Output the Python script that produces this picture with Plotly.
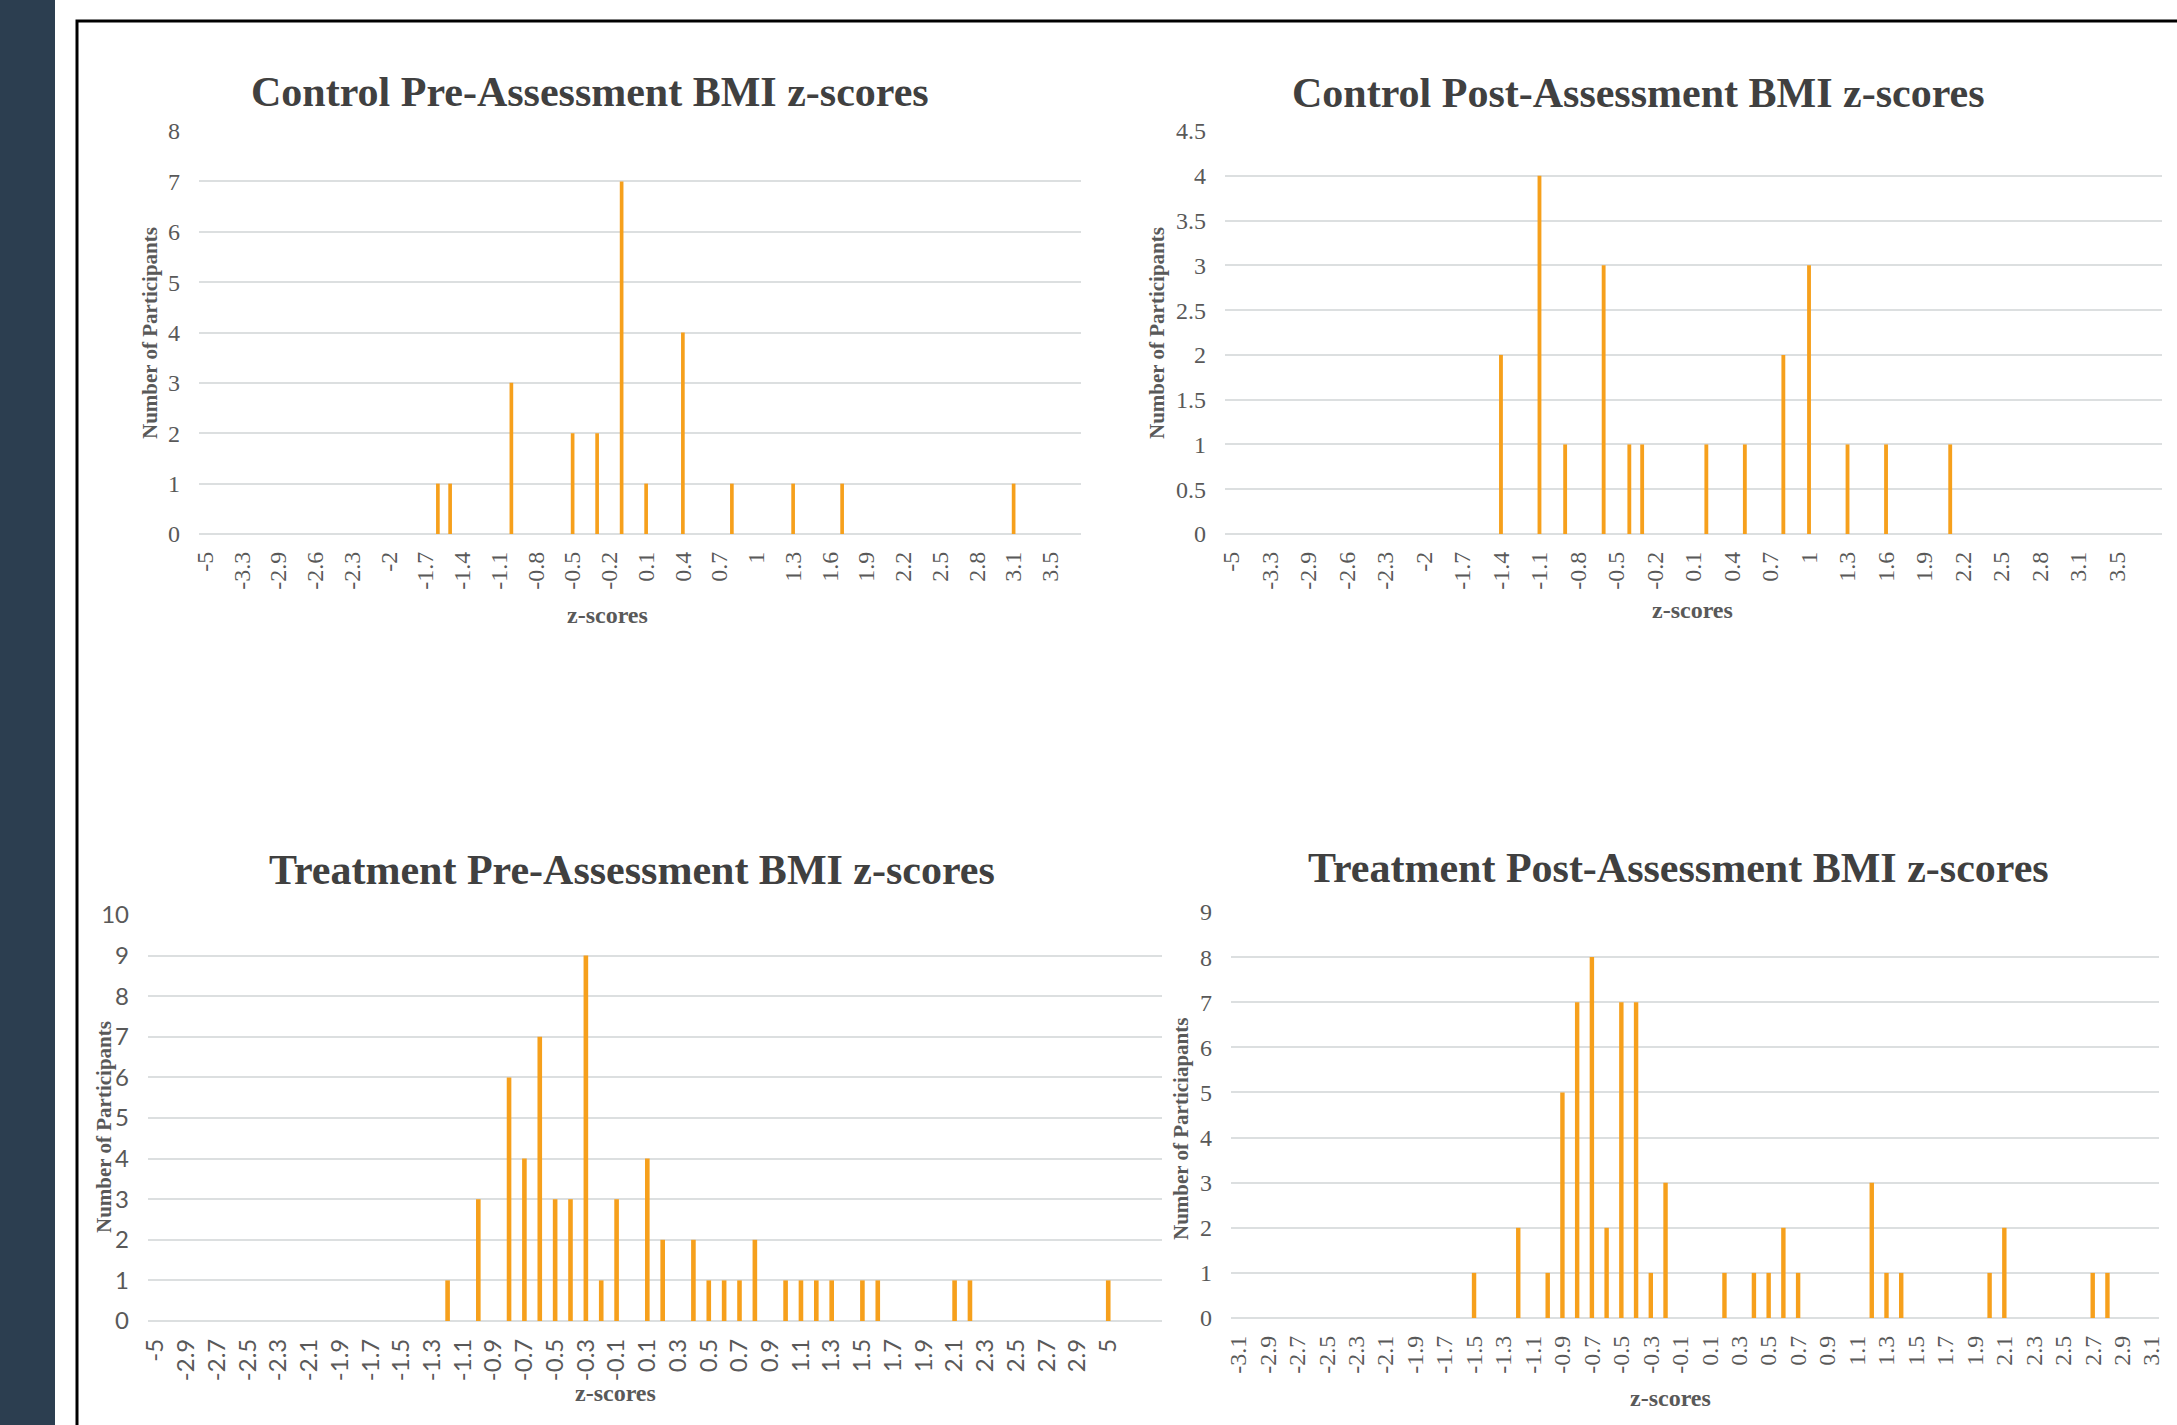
import plotly.graph_objects as go

# ---------------- data ----------------
CTRL_CATS = ["-5", "-3.5", "-3.4", "-3.3", "-3.2", "-3", "-2.9", "-2.8", "-2.7", "-2.6", "-2.5", "-2.4",
             "-2.3", "-2.2", "-2.1", "-2", "-1.9", "-1.8", "-1.7", "-1.6", "-1.5", "-1.4", "-1.3", "-1.2",
             "-1.1", "-1", "-0.9", "-0.8", "-0.7", "-0.6", "-0.5", "-0.4", "-0.3", "-0.2", "-0.1", "0",
             "0.1", "0.2", "0.3", "0.4", "0.5", "0.6", "0.7", "0.8", "0.9", "1", "1.1", "1.2", "1.3", "1.4",
             "1.5", "1.6", "1.7", "1.8", "1.9", "2", "2.1", "2.2", "2.3", "2.4", "2.5", "2.6", "2.7", "2.8",
             "2.9", "3", "3.1", "3.2", "3.3", "3.5", "3.6", "3.7"]
CTRL_TICKS = ["-5", "-3.3", "-2.9", "-2.6", "-2.3", "-2", "-1.7", "-1.4", "-1.1", "-0.8", "-0.5", "-0.2",
              "0.1", "0.4", "0.7", "1", "1.3", "1.6", "1.9", "2.2", "2.5", "2.8", "3.1", "3.5"]

CPRE_Z = ["-1.6", "-1.5", "-1", "-0.5", "-0.3", "-0.1", "0.1", "0.4", "0.8", "1.3", "1.7", "3.1"]
CPRE_N = [1, 1, 3, 2, 2, 7, 1, 4, 1, 1, 1, 1]

CPOST_Z = ["-1.4", "-1.1", "-0.9", "-0.6", "-0.4", "-0.3", "0.2", "0.5", "0.8", "1", "1.3", "1.6", "2.1"]
CPOST_N = [2, 4, 1, 3, 1, 1, 1, 1, 2, 3, 1, 1, 1]

TPRE_CATS = ["-5", "-3", "-2.9", "-2.8", "-2.7", "-2.6", "-2.5", "-2.4", "-2.3", "-2.2", "-2.1", "-2",
             "-1.9", "-1.8", "-1.7", "-1.6", "-1.5", "-1.4", "-1.3", "-1.2", "-1.1", "-1", "-0.9", "-0.8",
             "-0.7", "-0.6", "-0.5", "-0.4", "-0.3", "-0.2", "-0.1", "0", "0.1", "0.2", "0.3", "0.4", "0.5",
             "0.6", "0.7", "0.8", "0.9", "1", "1.1", "1.2", "1.3", "1.4", "1.5", "1.6", "1.7", "1.8", "1.9",
             "2", "2.1", "2.2", "2.3", "2.4", "2.5", "2.6", "2.7", "2.8", "2.9", "3", "5"]
TPRE_TICKS = ["-5", "-2.9", "-2.7", "-2.5", "-2.3", "-2.1", "-1.9", "-1.7", "-1.5", "-1.3", "-1.1", "-0.9",
              "-0.7", "-0.5", "-0.3", "-0.1", "0.1", "0.3", "0.5", "0.7", "0.9", "1.1", "1.3", "1.5", "1.7",
              "1.9", "2.1", "2.3", "2.5", "2.7", "2.9", "5"]
TPRE_Z = ["-1.2", "-1", "-0.8", "-0.7", "-0.6", "-0.5", "-0.4", "-0.3", "-0.2", "-0.1", "0.1", "0.2", "0.4",
          "0.5", "0.6", "0.7", "0.8", "1", "1.1", "1.2", "1.3", "1.5", "1.6", "2.1", "2.2", "5"]
TPRE_N = [1, 3, 6, 4, 7, 3, 3, 9, 1, 3, 4, 2, 2, 1, 1, 1, 2, 1, 1, 1, 1, 1, 1, 1, 1, 1]

TPOST_CATS = ["-3.1", "-3", "-2.9", "-2.8", "-2.7", "-2.6", "-2.5", "-2.4", "-2.3", "-2.2", "-2.1", "-2",
              "-1.9", "-1.8", "-1.7", "-1.6", "-1.5", "-1.4", "-1.3", "-1.2", "-1.1", "-1", "-0.9", "-0.8",
              "-0.7", "-0.6", "-0.5", "-0.4", "-0.3", "-0.2", "-0.1", "0", "0.1", "0.2", "0.3", "0.4", "0.5",
              "0.6", "0.7", "0.8", "0.9", "1", "1.1", "1.2", "1.3", "1.4", "1.5", "1.6", "1.7", "1.8", "1.9",
              "2", "2.1", "2.2", "2.3", "2.4", "2.5", "2.6", "2.7", "2.8", "2.9", "3", "3.1"]
TPOST_TICKS = ["-3.1", "-2.9", "-2.7", "-2.5", "-2.3", "-2.1", "-1.9", "-1.7", "-1.5", "-1.3", "-1.1",
               "-0.9", "-0.7", "-0.5", "-0.3", "-0.1", "0.1", "0.3", "0.5", "0.7", "0.9", "1.1", "1.3",
               "1.5", "1.7", "1.9", "2.1", "2.3", "2.5", "2.7", "2.9", "3.1"]
TPOST_Z = ["-1.5", "-1.2", "-1", "-0.9", "-0.8", "-0.7", "-0.6", "-0.5", "-0.4", "-0.3", "-0.2", "0.2",
           "0.4", "0.5", "0.6", "0.7", "1.2", "1.3", "1.4", "2", "2.1", "2.7", "2.8"]
TPOST_N = [1, 2, 1, 5, 7, 8, 2, 7, 7, 1, 3, 1, 1, 1, 2, 1, 3, 1, 1, 1, 2, 1, 1]

TITLES = ["Control Pre-Assessment BMI z-scores", "Control Post-Assessment BMI z-scores",
          "Treatment Pre-Assessment BMI z-scores", "Treatment Post-Assessment BMI z-scores"]
Y_TITLES = ["Number of Participants", "Number of Participants", "Number of Participants",
            "Number of Particiapants"]
X_TITLE = "z-scores"

# ---------------- layout helpers ----------------
# The page body margin is removed (post_script below), so the figure fills the window and
# all positions below are given in window pixels.
W, H = 2177, 1425


def fx(px):
    return px / W


def fy(py):
    return 1 - py / H


BAR_COLOR = "#F6A01C"
GRID = "#DCDFE0"
TXT = "#595959"
TITLE_C = "#404040"
SERIF = "Liberation Serif, Times New Roman, serif"
SANS = "Lato, sans-serif"

panels = [
    dict(cats=CTRL_CATS, ticks=CTRL_TICKS, z=CPRE_Z, n=CPRE_N, ymax=8, dtick=1, nshow=72,
         box=(199, 1081, 131, 534), tf=SERIF),
    dict(cats=CTRL_CATS, ticks=CTRL_TICKS, z=CPOST_Z, n=CPOST_N, ymax=4.5, dtick=0.5, nshow=73,
         box=(1225, 2162, 131, 534), tf=SERIF),
    dict(cats=TPRE_CATS, ticks=TPRE_TICKS, z=TPRE_Z, n=TPRE_N, ymax=10, dtick=1, nshow=66,
         box=(148, 1162, 915, 1321), tf=SANS),
    dict(cats=TPOST_CATS, ticks=TPOST_TICKS, z=TPOST_Z, n=TPOST_N, ymax=9, dtick=1, nshow=63,
         box=(1231, 2159, 912, 1318), tf=SERIF),
]

fig = go.Figure()
layout = dict(width=W, height=H, margin=dict(l=0, r=0, t=0, b=0, pad=0, autoexpand=False),
              paper_bgcolor="white", plot_bgcolor="white", showlegend=False, template="none")

for i, p in enumerate(panels, start=1):
    sfx = "" if i == 1 else str(i)
    fig.add_trace(go.Bar(x=p["z"], y=p["n"], marker=dict(color=BAR_COLOR, line=dict(width=0)),
                         width=0.3, xaxis="x" + sfx, yaxis="y" + sfx, hoverinfo="x+y"))
    x0, x1, y0, y1 = p["box"]
    layout["xaxis" + sfx] = dict(
        domain=[fx(x0), fx(x1)], anchor="y" + sfx, type="category", automargin=False,
        categoryorder="array", categoryarray=p["cats"],
        range=[-0.5, p["nshow"] - 0.5],
        tickmode="array", tickvals=p["ticks"], ticktext=p["ticks"],
        tickangle=-90, showgrid=False, zeroline=False, showline=False, ticks="",
        ticklabelstandoff=12,
        tickfont=dict(family=p["tf"], size=24, color=TXT))
    layout["yaxis" + sfx] = dict(
        domain=[fy(y1), fy(y0)], anchor="x" + sfx, range=[0, p["ymax"]], dtick=p["dtick"],
        tick0=0, automargin=False, showgrid=True, gridcolor=GRID, gridwidth=2, zeroline=True,
        zerolinecolor=GRID, zerolinewidth=2, showline=False, ticks="", ticklabelstandoff=18,
        tickfont=dict(family=p["tf"], size=24, color=TXT))

fig.update_layout(**layout)

# titles and axis titles (window pixel positions)
title_pos = [(590, 92), (1638, 93), (632, 870), (1678, 868)]
ytitle_pos = [(150, 333), (1157, 333), (104, 1127), (1181, 1129)]
xtitle_pos = [(607, 615), (1692, 610), (615, 1393), (1670, 1398)]
for i in range(4):
    fig.add_annotation(x=fx(title_pos[i][0]), y=fy(title_pos[i][1]), xref="paper", yref="paper",
                       text="<b>" + TITLES[i] + "</b>", showarrow=False, xanchor="center", yanchor="middle",
                       font=dict(family=SERIF, size=42, color=TITLE_C))
    fig.add_annotation(x=fx(ytitle_pos[i][0]), y=fy(ytitle_pos[i][1]), xref="paper", yref="paper",
                       text="<b>" + Y_TITLES[i] + "</b>", showarrow=False, textangle=-90,
                       xanchor="center", yanchor="middle",
                       font=dict(family=SERIF, size=21, color=TXT))
    fig.add_annotation(x=fx(xtitle_pos[i][0]), y=fy(xtitle_pos[i][1]), xref="paper", yref="paper",
                       text="<b>" + X_TITLE + "</b>", showarrow=False, xanchor="center", yanchor="middle",
                       font=dict(family=SERIF, size=24, color=TXT))

# page decoration: dark strip on the left and black frame
fig.add_shape(type="rect", xref="paper", yref="paper", x0=0, x1=fx(55), y0=0, y1=1,
              fillcolor="#2C3E50", line=dict(width=0), layer="below")
fig.add_shape(type="rect", xref="paper", yref="paper", x0=fx(77), x1=1.05, y0=-0.05, y1=fy(21),
              fillcolor="rgba(0,0,0,0)", line=dict(color="black", width=3))

fig.write_html("out.html", config={"displayModeBar": False},
               post_script="document.body.style.margin='0px';document.body.style.overflow='hidden';")
